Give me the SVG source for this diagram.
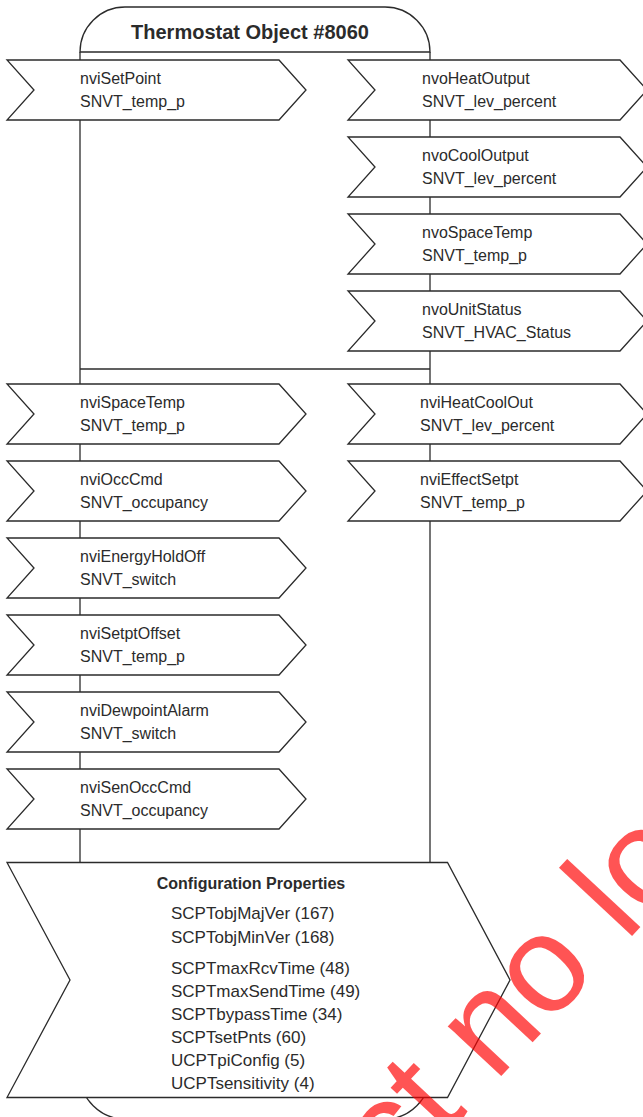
<svg xmlns="http://www.w3.org/2000/svg" width="643" height="1117" viewBox="0 0 643 1117">
  <style>
    .ln { fill: none; stroke: #2b2b2b; stroke-width: 1.3; }
    .shape { fill: #ffffff; stroke: #2b2b2b; stroke-width: 1.3; stroke-linejoin: miter; }
    .t { font-family: "Liberation Sans", Arial, sans-serif; font-size: 16px; fill: #2b2b2b; }
    .title { font-family: "Liberation Sans", Arial, sans-serif; font-size: 20px; font-weight: bold; fill: #2b2b2b; }
    .cph { font-family: "Liberation Sans", Arial, sans-serif; font-size: 16px; font-weight: bold; fill: #2b2b2b; }
    .cp { font-family: "Liberation Sans", Arial, sans-serif; font-size: 17px; fill: #2b2b2b; }
    .wm { font-family: "Liberation Sans", Arial, sans-serif; font-size: 138px; fill: #ff0000; fill-opacity: 0.67; }
  </style>
  <defs>
    <polygon id="chevL" points="7,0 279,0 306,30 279,60 7,60 34,30"/>
  </defs>
  <rect width="643" height="1117" fill="#ffffff"/>

  <g id="object-frame">
    <path class="shape" d="M80,52 A45,45 0 0 1 125,7 L385,7 A45,45 0 0 1 430,52 Z"/>
    <text class="title" x="250" y="39" text-anchor="middle">Thermostat Object #8060</text>
    <path class="ln" d="M80,1060 L80,1074 A45,45 0 0 0 125,1119 L385,1119 A45,45 0 0 0 430,1074 L430,1060"/>
  </g>

  <g id="connectors">
    <line class="ln" x1="80" y1="52" x2="80" y2="862"/>
    <line class="ln" x1="430" y1="52" x2="430" y2="862"/>
    <line class="ln" x1="80" y1="369" x2="430" y2="369"/>
  </g>

  <g id="nviSetPoint" transform="translate(0,60)">
    <use href="#chevL" class="shape"/>
    <text class="t" x="80" y="24">nviSetPoint</text>
    <text class="t" x="80" y="47">SNVT_temp_p</text>
  </g>
  <g id="nvoHeatOutput" transform="translate(341,60)">
    <use href="#chevL" class="shape"/>
    <text class="t" x="81" y="24">nvoHeatOutput</text>
    <text class="t" x="81" y="47">SNVT_lev_percent</text>
  </g>
  <g id="nvoCoolOutput" transform="translate(341,137)">
    <use href="#chevL" class="shape"/>
    <text class="t" x="81" y="24">nvoCoolOutput</text>
    <text class="t" x="81" y="47">SNVT_lev_percent</text>
  </g>
  <g id="nvoSpaceTemp" transform="translate(341,214)">
    <use href="#chevL" class="shape"/>
    <text class="t" x="81" y="24">nvoSpaceTemp</text>
    <text class="t" x="81" y="47">SNVT_temp_p</text>
  </g>
  <g id="nvoUnitStatus" transform="translate(341,291)">
    <use href="#chevL" class="shape"/>
    <text class="t" x="81" y="24">nvoUnitStatus</text>
    <text class="t" x="81" y="47">SNVT_HVAC_Status</text>
  </g>

  <g id="nviSpaceTemp" transform="translate(0,384)">
    <use href="#chevL" class="shape"/>
    <text class="t" x="80" y="24">nviSpaceTemp</text>
    <text class="t" x="80" y="47">SNVT_temp_p</text>
  </g>
  <g id="nviOccCmd" transform="translate(0,461)">
    <use href="#chevL" class="shape"/>
    <text class="t" x="80" y="24">nviOccCmd</text>
    <text class="t" x="80" y="47">SNVT_occupancy</text>
  </g>
  <g id="nviEnergyHoldOff" transform="translate(0,538)">
    <use href="#chevL" class="shape"/>
    <text class="t" x="80" y="24">nviEnergyHoldOff</text>
    <text class="t" x="80" y="47">SNVT_switch</text>
  </g>
  <g id="nviSetptOffset" transform="translate(0,615)">
    <use href="#chevL" class="shape"/>
    <text class="t" x="80" y="24">nviSetptOffset</text>
    <text class="t" x="80" y="47">SNVT_temp_p</text>
  </g>
  <g id="nviDewpointAlarm" transform="translate(0,692)">
    <use href="#chevL" class="shape"/>
    <text class="t" x="80" y="24">nviDewpointAlarm</text>
    <text class="t" x="80" y="47">SNVT_switch</text>
  </g>
  <g id="nviSenOccCmd" transform="translate(0,769)">
    <use href="#chevL" class="shape"/>
    <text class="t" x="80" y="24">nviSenOccCmd</text>
    <text class="t" x="80" y="47">SNVT_occupancy</text>
  </g>
  <g id="nviHeatCoolOut" transform="translate(341,384)">
    <use href="#chevL" class="shape"/>
    <text class="t" x="79" y="24">nviHeatCoolOut</text>
    <text class="t" x="79" y="47">SNVT_lev_percent</text>
  </g>
  <g id="nviEffectSetpt" transform="translate(341,461)">
    <use href="#chevL" class="shape"/>
    <text class="t" x="79" y="24">nviEffectSetpt</text>
    <text class="t" x="79" y="47">SNVT_temp_p</text>
  </g>

  <g id="configProperties">
    <polygon class="shape" points="7,862.5 447.5,862.5 510,980 447.5,1097.5 7,1097.5 70,980"/>
    <text class="cph" x="251" y="889" text-anchor="middle">Configuration Properties</text>
    <text class="cp" x="171" y="919">SCPTobjMajVer (167)</text>
    <text class="cp" x="171" y="942.5">SCPTobjMinVer (168)</text>
    <text class="cp" x="171" y="973.5">SCPTmaxRcvTime (48)</text>
    <text class="cp" x="171" y="996.5">SCPTmaxSendTime (49)</text>
    <text class="cp" x="171" y="1019.5">SCPTbypassTime (34)</text>
    <text class="cp" x="171" y="1042.5">SCPTsetPnts (60)</text>
    <text class="cp" x="171" y="1065.5">UCPTpiConfig (5)</text>
    <text class="cp" x="171" y="1088.5">UCPTsensitivity (4)</text>
  </g>

  <text class="wm" x="395.5" y="1189.5" transform="rotate(-47 395.5 1189.5)">ct no lo</text>
</svg>
